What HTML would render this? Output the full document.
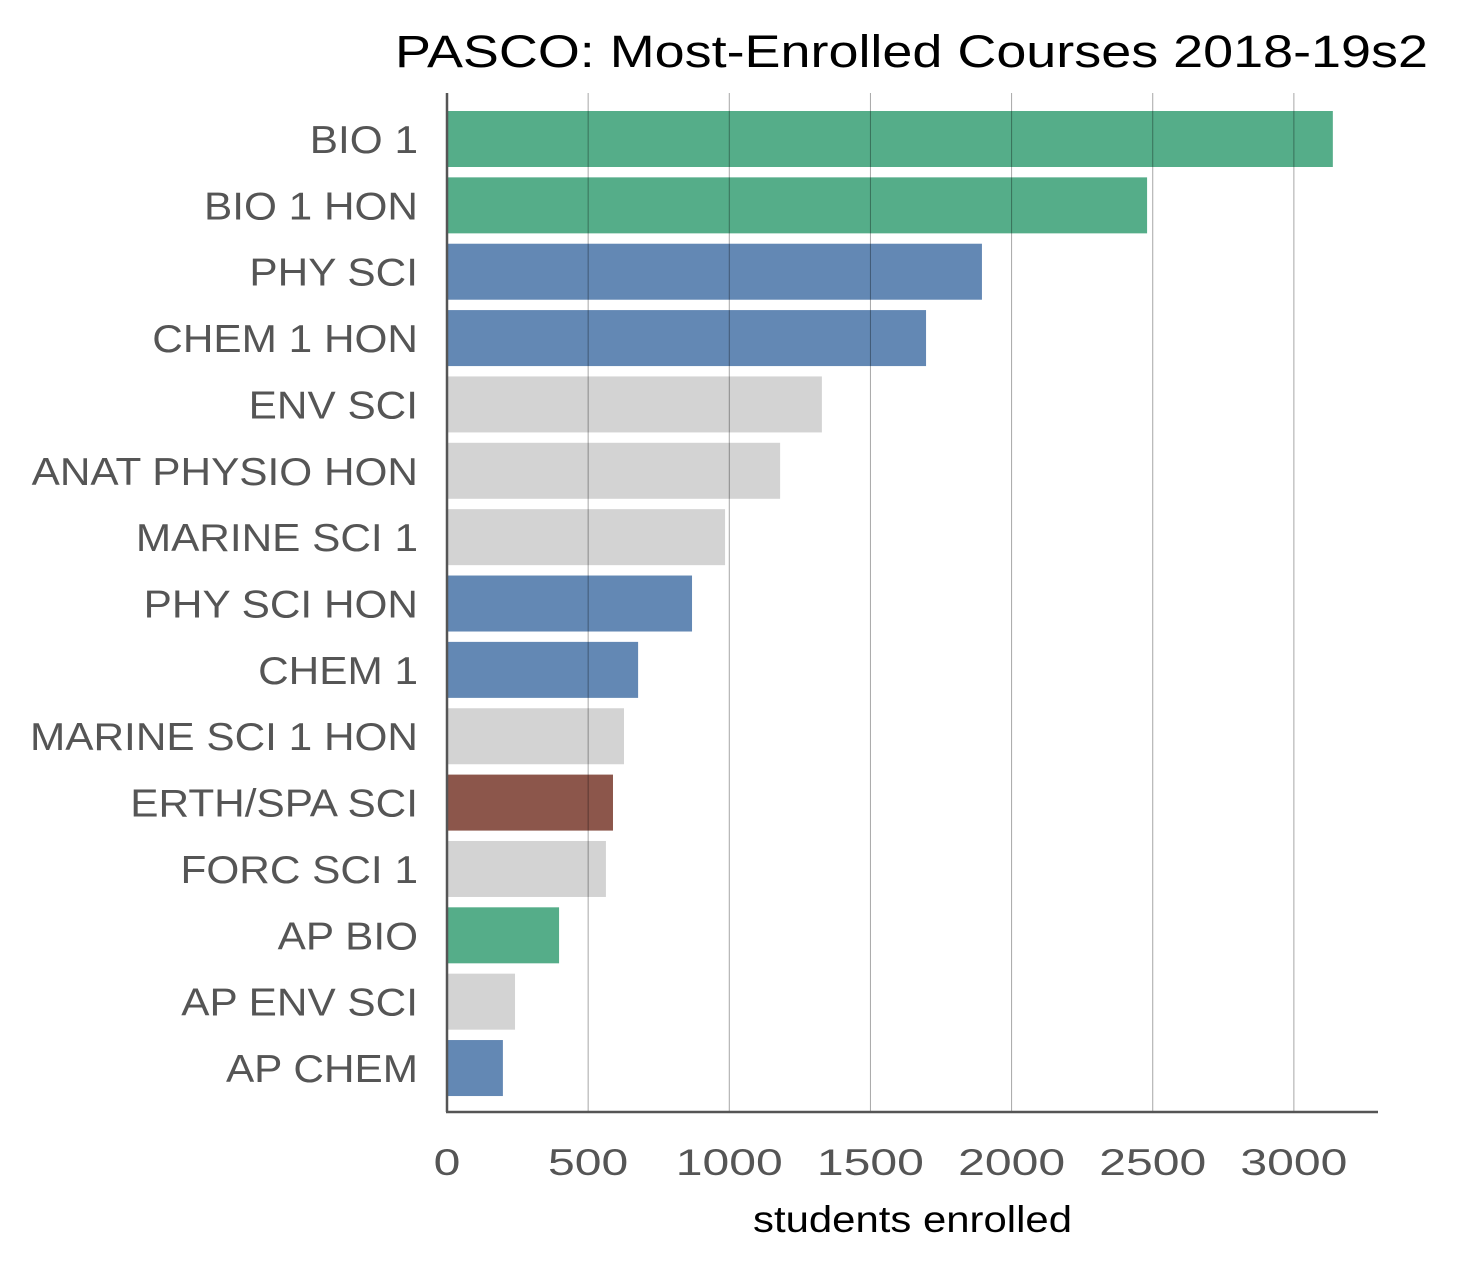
<!DOCTYPE html>
<html><head><meta charset="utf-8">
<style>
html,body{margin:0;padding:0;background:#fff;}
svg{display:block;font-family:"Liberation Sans","DejaVu Sans",sans-serif;}
</style></head>
<body>
<svg id="chart" width="1459" height="1269" viewBox="0 0 1459 1269">
<text x="395" y="67" textLength="1033" lengthAdjust="spacingAndGlyphs" font-size="45" fill="#000">PASCO: Most-Enrolled Courses 2018-19s2</text>
<text x="753" y="1232" textLength="319" lengthAdjust="spacingAndGlyphs" font-size="37" fill="#000">students enrolled</text>
<g id="bars"></g><g id="grid"></g><g id="ylabels"></g><g id="xticks"></g>
<line x1="447" y1="93" x2="447" y2="1112" stroke="#555" stroke-width="2.5"/>
<line x1="446" y1="1112" x2="1378" y2="1112" stroke="#555" stroke-width="2.5"/>
</svg>
<script>
const categories=["BIO 1","BIO 1 HON","PHY SCI","CHEM 1 HON","ENV SCI","ANAT PHYSIO HON","MARINE SCI 1","PHY SCI HON","CHEM 1","MARINE SCI 1 HON","ERTH/SPA SCI","FORC SCI 1","AP BIO","AP ENV SCI","AP CHEM"];
const values=[3138,2480,1895,1697,1328,1180,985,868,677,627,588,563,397,241,198];
const groups=["bio","bio","phys","phys","other","other","other","phys","phys","other","earth","other","bio","other","phys"];
const xTicks=[0,500,1000,1500,2000,2500,3000];
const colors={bio:"#55ad89",phys:"#6388b4",other:"#d3d3d3",earth:"#8c564b"};
const NS="http://www.w3.org/2000/svg";
const x0=447,x1=1378,xMax=3298;
const X=v=>x0+(v/xMax)*(x1-x0);
const rowTop=111,pitch=66.36,bh=56;
const Y=i=>rowTop+i*pitch;
function mk(t,a){const e=document.createElementNS(NS,t);for(const k in a)e.setAttribute(k,a[k]);return e;}
const bars=document.getElementById('bars'),grid=document.getElementById('grid'),yl=document.getElementById('ylabels'),xt=document.getElementById('xticks');
values.forEach((v,i)=>{
 const r=mk('rect',{x:x0,y:Y(i),width:X(v)-x0,height:bh,fill:colors[groups[i]]});
 
 
 bars.appendChild(r);
 const t=mk('text',{x:418,y:Y(i)+bh/2+14,'text-anchor':'end','font-size':'39',fill:'#555'});
 t.textContent=categories[i];
 
 
 yl.appendChild(t);
 const w=t.getComputedTextLength();
 if(w>0){t.setAttribute('textLength',w*1.085);t.setAttribute('lengthAdjust','spacingAndGlyphs');}
});
xTicks.forEach(v=>{
 if(v>0){const l=mk('line',{x1:X(v),y1:93,x2:X(v),y2:1112,stroke:'#000','stroke-opacity':'0.35','stroke-width':'1'});
 
 
 grid.appendChild(l);}
 const t=mk('text',{x:X(v),y:1175,'text-anchor':'middle','font-size':'37',fill:'#555'});
 t.textContent=v;
 
 
 xt.appendChild(t);
 const w=t.getComputedTextLength();
 if(w>0){t.setAttribute('textLength',w*1.3);t.setAttribute('lengthAdjust','spacingAndGlyphs');}
});
</script>
</body></html>
